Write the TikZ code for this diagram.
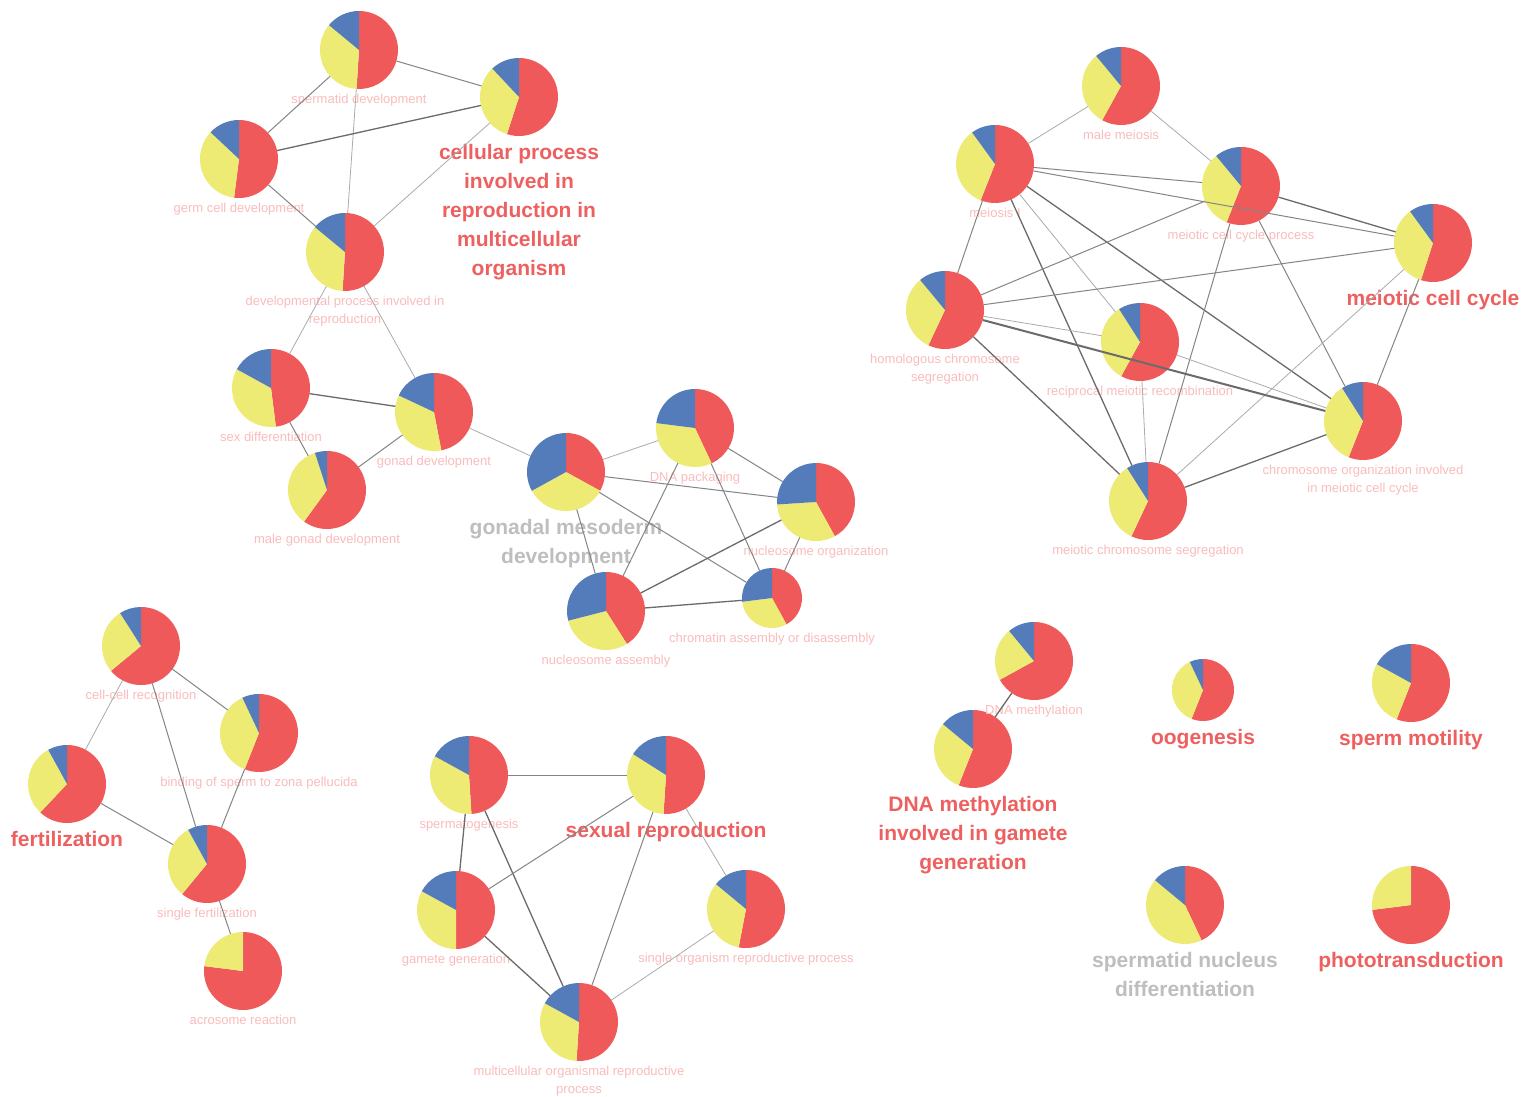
\documentclass[tikz,border=0pt]{standalone}
\usepackage{fontspec}
\setmainfont{Liberation Sans}
\usetikzlibrary{positioning}
\definecolor{piered}{RGB}{240,89,89}
\definecolor{pieyellow}{RGB}{237,235,116}
\definecolor{pieblue}{RGB}{84,123,186}
\definecolor{lblpink}{RGB}{250,188,188}
\definecolor{lblred}{RGB}{238,96,96}
\definecolor{lblgray}{RGB}{190,190,190}
\tikzset{
  pienode/.style={circle, inner sep=0pt, outer sep=0pt},
  termlbl/.style={inner sep=0pt, align=center, text=lblpink, font=\fontsize{13}{18}\selectfont},
  grouplbl/.style={inner sep=0pt, align=center, text=lblred, font=\bfseries\fontsize{21}{29}\selectfont},
  grouplblgray/.style={grouplbl, text=lblgray},
  edgedark/.style={draw=black!58, line width=1.3pt},
  edgemid/.style={draw=black!48, line width=1pt},
  edgelight/.style={draw=black!33, line width=0.8pt}
}
% pie: name, position, radius, red share, yellow share (percent, clockwise from top)
\newcommand{\piechart}[5]{%
  \node[pienode, minimum size=2*#3] (#1) at (#2) {};
  \fill[piered] (#1.center) -- ++(90:#3) arc[start angle=90, delta angle={-3.6*#4}, radius=#3] -- cycle;
  \fill[pieyellow] (#1.center) -- ++({90-3.6*#4}:#3) arc[start angle={90-3.6*#4}, delta angle={-3.6*#5}, radius=#3] -- cycle;
  \fill[pieblue] (#1.center) -- ++({90-3.6*(#4+#5)}:#3) arc[start angle={90-3.6*(#4+#5)}, end angle=-270, radius=#3] -- cycle;
}
\begin{document}
\begin{tikzpicture}[x=1pt,y=-1pt]
\fill[white] (0,0) rectangle (1534,1097);
\useasboundingbox (0,0) rectangle (1534,1097);

% top left group
\piechart{spd}{359,50}{39pt}{51}{35}
\piechart{cpr}{519,97}{39pt}{55}{33}
\piechart{gcd}{239,159}{39pt}{52}{35}
\piechart{dpr}{345,252}{39pt}{51}{35}
% gonad / chromatin group
\piechart{sxd}{271,388}{39pt}{48}{35}
\piechart{gnd}{434,412}{39pt}{47}{35}
\piechart{mgd}{327,490}{39pt}{60}{35}
\piechart{gmd}{566,472}{39pt}{33}{34}
\piechart{dnp}{695,428}{39pt}{43}{34}
\piechart{nuo}{816,502}{39pt}{42}{32}
\piechart{nua}{606,611}{39pt}{41}{30}
\piechart{cad}{772,598}{30pt}{42}{31}
% meiosis group
\piechart{mme}{1121,86}{39pt}{58}{31}
\piechart{mei}{995,164}{39pt}{56}{34}
\piechart{mcp}{1241,186}{39pt}{56}{33}
\piechart{mcc}{1433,243}{39pt}{55}{35}
\piechart{hcs}{945,310}{39pt}{57}{32}
\piechart{rmr}{1140,342}{39pt}{58}{33}
\piechart{com}{1363,421}{39pt}{56}{35}
\piechart{mcs}{1148,501}{39pt}{57}{34}
% fertilization group
\piechart{ccr}{141,646}{39pt}{64}{27}
\piechart{bsz}{259,733}{39pt}{56}{37}
\piechart{fer}{67,784}{39pt}{62}{30}
\piechart{sfe}{207,864}{39pt}{61}{31}
\piechart{acr}{243,971}{39pt}{77}{23}
% sexual reproduction group
\piechart{spg}{469,775}{39pt}{49}{34}
\piechart{sxr}{666,775}{39pt}{51}{33}
\piechart{gmg}{456,910}{39pt}{50}{33}
\piechart{sor}{746,909}{39pt}{53}{33}
\piechart{mor}{579,1022}{39pt}{51}{32}
% small groups
\piechart{dme}{1034,661}{39pt}{67}{22}
\piechart{dmg}{973,749}{39pt}{56}{30}
\piechart{oog}{1203,690}{31pt}{56}{37}
\piechart{spm}{1411,683}{39pt}{56}{27}
\piechart{snd}{1185,905}{39pt}{43}{43}
\piechart{pht}{1411,905}{39pt}{73}{27}

% labels
\node[termlbl, below=5pt of spd] (spd-l) {spermatid development};
\node[grouplbl, below=8pt of cpr] (cpr-l) {cellular process\\involved in\\reproduction in\\multicellular\\organism};
\node[termlbl, below=5pt of gcd] (gcd-l) {germ cell development};
\node[termlbl, below=5pt of dpr] (dpr-l) {developmental process involved in\\reproduction};
\node[termlbl, below=5pt of sxd] (sxd-l) {sex differentiation};
\node[termlbl, below=5pt of gnd] (gnd-l) {gonad development};
\node[termlbl, below=5pt of mgd] (mgd-l) {male gonad development};
\node[grouplblgray, below=8pt of gmd] (gmd-l) {gonadal mesoderm\\development};
\node[termlbl, below=5pt of dnp] (dnp-l) {DNA packaging};
\node[termlbl, below=5pt of nuo] (nuo-l) {nucleosome organization};
\node[termlbl, below=5pt of nua] (nua-l) {nucleosome assembly};
\node[termlbl, below=5pt of cad] (cad-l) {chromatin assembly or disassembly};
\node[termlbl, below=5pt of mme] (mme-l) {male meiosis};
\node[termlbl, below=5pt of mei] (mei-l) {meiosis I};
\node[termlbl, below=5pt of mcp] (mcp-l) {meiotic cell cycle process};
\node[grouplbl, below=8pt of mcc] (mcc-l) {meiotic cell cycle};
\node[termlbl, below=5pt of hcs] (hcs-l) {homologous chromosome\\segregation};
\node[termlbl, below=5pt of rmr] (rmr-l) {reciprocal meiotic recombination};
\node[termlbl, below=5pt of com] (com-l) {chromosome organization involved\\in meiotic cell cycle};
\node[termlbl, below=5pt of mcs] (mcs-l) {meiotic chromosome segregation};
\node[termlbl, below=5pt of ccr] (ccr-l) {cell-cell recognition};
\node[termlbl, below=5pt of bsz] (bsz-l) {binding of sperm to zona pellucida};
\node[grouplbl, below=8pt of fer] (fer-l) {fertilization};
\node[termlbl, below=5pt of sfe] (sfe-l) {single fertilization};
\node[termlbl, below=5pt of acr] (acr-l) {acrosome reaction};
\node[termlbl, below=5pt of spg] (spg-l) {spermatogenesis};
\node[grouplbl, below=8pt of sxr] (sxr-l) {sexual reproduction};
\node[termlbl, below=5pt of gmg] (gmg-l) {gamete generation};
\node[termlbl, below=5pt of sor] (sor-l) {single organism reproductive process};
\node[termlbl, below=5pt of mor] (mor-l) {multicellular organismal reproductive\\process};
\node[termlbl, below=5pt of dme] (dme-l) {DNA methylation};
\node[grouplbl, below=8pt of dmg] (dmg-l) {DNA methylation\\involved in gamete\\generation};
\node[grouplbl, below=8pt of oog] (oog-l) {oogenesis};
\node[grouplbl, below=8pt of spm] (spm-l) {sperm motility};
\node[grouplblgray, below=8pt of snd] (snd-l) {spermatid nucleus\\differentiation};
\node[grouplbl, below=8pt of pht] (pht-l) {phototransduction};

% edges
\draw[edgemid] (spd) -- (cpr);
\draw[edgemid] (spd) -- (gcd);
\draw[edgelight] (spd) -- (dpr);
\draw[edgedark] (gcd) -- (cpr);
\draw[edgemid] (gcd) -- (dpr);
\draw[edgelight] (cpr) -- (dpr);
\draw[edgelight] (dpr) -- (sxd);
\draw[edgelight] (dpr) -- (gnd);

\draw[edgedark] (sxd) -- (gnd);
\draw[edgemid] (sxd) -- (mgd);
\draw[edgemid] (gnd) -- (mgd);
\draw[edgelight] (gnd) -- (gmd);
\draw[edgelight] (gmd) -- (dnp);
\draw[edgemid] (gmd) -- (nuo);
\draw[edgemid] (gmd) -- (nua);
\draw[edgemid] (gmd) -- (cad);
\draw[edgemid] (dnp) -- (nuo);
\draw[edgemid] (dnp) -- (nua);
\draw[edgemid] (dnp) -- (cad);
\draw[edgedark] (nuo) -- (nua);
\draw[edgemid] (nuo) -- (cad);
\draw[edgedark] (nua) -- (cad);

\draw[edgelight] (mme) -- (mei);
\draw[edgelight] (mme) -- (mcp);
\draw[edgemid] (mei) -- (mcp);
\draw[edgemid] (mei) -- (mcc);
\draw[edgemid] (mei) -- (hcs);
\draw[edgelight] (mei) -- (rmr);
\draw[edgedark] (mei) -- (mcs);
\draw[edgedark] (mei) -- (com);
\draw[edgedark] (mcp) -- (mcc);
\draw[edgemid] (mcp) -- (hcs);
\draw[edgemid] (mcp) -- (mcs);
\draw[edgemid] (mcp) -- (com);
\draw[edgemid] (mcc) -- (hcs);
\draw[edgelight] (mcc) -- (mcs);
\draw[edgemid] (mcc) -- (com);
\draw[edgelight] (hcs) -- (rmr);
\draw[edgedark, line width=2pt] (hcs) -- (com);
\draw[edgedark] (hcs) -- (mcs);
\draw[edgelight] (rmr) -- (mcs);
\draw[edgelight] (rmr) -- (com);
\draw[edgedark] (com) -- (mcs);

\draw[edgemid] (ccr) -- (bsz);
\draw[edgelight] (ccr) -- (fer);
\draw[edgemid] (ccr) -- (sfe);
\draw[edgemid] (bsz) -- (sfe);
\draw[edgemid] (fer) -- (sfe);
\draw[edgemid] (sfe) -- (acr);

\draw[edgemid] (spg) -- (sxr);
\draw[edgedark] (spg) -- (gmg);
\draw[edgedark] (spg) -- (mor);
\draw[edgemid] (sxr) -- (gmg);
\draw[edgemid] (sxr) -- (mor);
\draw[edgelight] (sxr) -- (sor);
\draw[edgedark] (gmg) -- (mor);
\draw[edgelight] (sor) -- (mor);

\draw[edgedark] (dme) -- (dmg);
\end{tikzpicture}
\end{document}
